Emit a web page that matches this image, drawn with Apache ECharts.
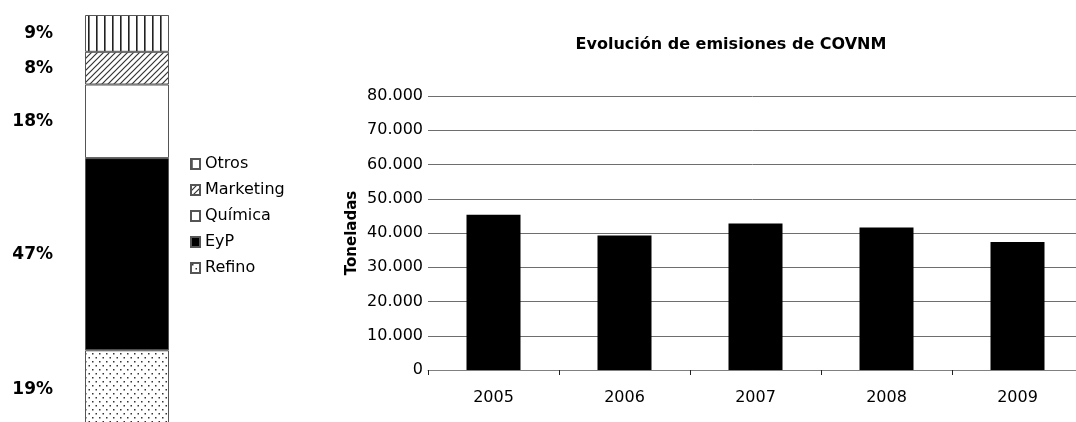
<!DOCTYPE html>
<html>
<head>
<meta charset="utf-8">
<script src="https://cdn.jsdelivr.net/npm/echarts@6/dist/echarts.min.js"></script>
<style>
  html, body { margin: 0; padding: 0; background: #fff; }
  #chart { width: 1076px; height: 422px; }
</style>
</head>
<body>
<div id="chart"></div>
<script>
// share of emissions by business (stacked bar, bottom to top)
var shareNames = ['Refino', 'EyP', 'Química', 'Marketing', 'Otros'];
var shareValues = [19, 47, 18, 8, 9];
var legendOrder = ['Otros', 'Marketing', 'Química', 'EyP', 'Refino'];

// COVNM emissions per year (toneladas)
var years = ['2005', '2006', '2007', '2008', '2009'];
var emissions = [45300, 39300, 42800, 41600, 37400];

var FONT = 'DejaVu Sans';

function makePattern(w, h, draw) {
	var c = document.createElement('canvas');
	c.width = w;
	c.height = h;
	var ctx = c.getContext('2d');
	ctx.fillStyle = '#fff';
	ctx.fillRect(0, 0, w, h);
	draw(ctx);
	return { image: c, repeat: 'repeat' };
}

var fills = {
	'Otros': makePattern(8, 8, function(ctx) {
		ctx.fillStyle = '#222';
		ctx.fillRect(0, 0, 1.6, 8);
	}),
	'Marketing': makePattern(6, 6, function(ctx) {
		ctx.strokeStyle = '#333';
		ctx.lineWidth = 1.2;
		ctx.beginPath();
		ctx.moveTo(-1, 7); ctx.lineTo(7, -1);
		ctx.moveTo(-1, 1); ctx.lineTo(1, -1);
		ctx.moveTo(5, 7); ctx.lineTo(7, 5);
		ctx.stroke();
	}),
	'Química': '#fff',
	'EyP': '#000',
	'Refino': makePattern(7, 8, function(ctx) {
		ctx.fillStyle = '#333';
		ctx.fillRect(1, 1, 1.5, 1.5);
		ctx.fillRect(4.5, 5, 1.5, 1.5);
	})
};

var shareSeries = shareNames.map(function(name, i) {
	return {
		name: name,
		type: 'bar',
		stack: 'share',
		xAxisIndex: 0,
		yAxisIndex: 0,
		barWidth: '100%',
		data: [shareValues[i]],
		itemStyle: { color: fills[name], borderColor: '#555', borderWidth: 1 },
		label: {
			show: true,
			position: 'left',
			distance: 32,
			formatter: '{c}%',
			fontFamily: FONT,
			fontWeight: 'bold',
			fontSize: 17,
			color: '#000'
		},
		emphasis: { disabled: true }
	};
});

var chart = echarts.init(document.getElementById('chart'));
chart.setOption({
	animation: false,
	backgroundColor: '#fff',
	title: {
		text: 'Evolución de emisiones de COVNM',
		left: 731,
		top: 37,
		padding: 0,
		textAlign: 'center',
		textStyle: { fontFamily: FONT, fontWeight: 'bold', fontSize: 16, color: '#000' }
	},
	legend: {
		orient: 'vertical',
		left: 190,
		top: 156,
		padding: 0,
		icon: 'rect',
		itemWidth: 9,
		itemHeight: 10,
		itemGap: 10,
		data: legendOrder,
		textStyle: { fontFamily: FONT, fontSize: 16, color: '#000' }
	},
	grid: [
		{ left: 85, width: 84, top: 15, bottom: -6, outerBoundsMode: 'none' },
		{ left: 428, width: 655, top: 96, bottom: 52, outerBoundsMode: 'none' }
	],
	xAxis: [
		{ gridIndex: 0, type: 'category', data: [''], show: false },
		{
			gridIndex: 1,
			type: 'category',
			data: years,
			axisLine: { lineStyle: { color: '#808080', width: 1 } },
			axisTick: { show: true, length: 5, lineStyle: { color: '#222' } },
			axisLabel: { margin: 20, fontFamily: FONT, fontSize: 16, color: '#000' }
		}
	],
	yAxis: [
		{ gridIndex: 0, type: 'value', min: 0, max: 101, show: false },
		{
			gridIndex: 1,
			type: 'value',
			min: 0,
			max: 80000,
			interval: 10000,
			name: 'Toneladas',
			nameLocation: 'middle',
			nameRotate: 90,
			nameGap: 68,
			nameMoveOverlap: false,
			nameTextStyle: { fontFamily: FONT, fontWeight: 'bold', fontSize: 15, color: '#000' },
			axisLine: { show: false },
			axisTick: { show: false },
			splitLine: { lineStyle: { color: '#6e6e6e', width: 1 } },
			axisLabel: {
				margin: 5,
				fontFamily: FONT,
				fontSize: 16,
				color: '#000',
				formatter: function(v) {
					return String(v).replace(/\B(?=(\d{3})+(?!\d))/g, '.');
				}
			}
		}
	],
	series: shareSeries.concat([{
		name: 'COVNM',
		type: 'bar',
		xAxisIndex: 1,
		yAxisIndex: 1,
		barWidth: 54,
		data: emissions,
		itemStyle: { color: '#000' },
		emphasis: { disabled: true }
	}])
});
</script>
</body>
</html>
